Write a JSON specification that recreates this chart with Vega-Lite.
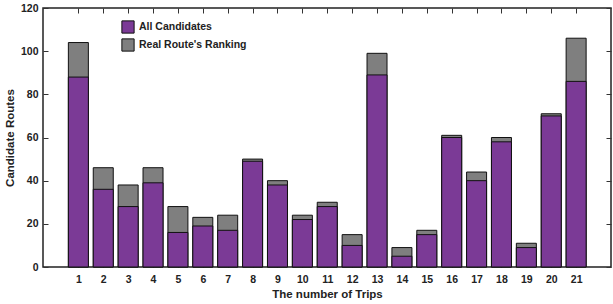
{
  "$schema": "https://vega.github.io/schema/vega-lite/v6.json",
  "width": 568,
  "height": 259,
  "autosize": {"type": "none"},
  "padding": {"left": 43, "top": 8, "right": 2, "bottom": 37},
  "config": {
    "font": "Liberation Sans",
    "view": {"stroke": "#222", "strokeWidth": 1.5},
    "axis": {"domain": false, "grid": false, "tickColor": "#333", "labelColor": "#222", "titleColor": "#222", "labelFontWeight": "bold", "titleFontWeight": "bold", "labelFontSize": 10.5, "titleFontSize": 11.5}
  },
  "data": {"values": [
    {"trip": 1, "total": 104, "real": 88},
    {"trip": 2, "total": 46, "real": 36},
    {"trip": 3, "total": 38, "real": 28},
    {"trip": 4, "total": 46, "real": 39},
    {"trip": 5, "total": 28, "real": 16},
    {"trip": 6, "total": 23, "real": 19},
    {"trip": 7, "total": 24, "real": 17},
    {"trip": 8, "total": 50, "real": 49},
    {"trip": 9, "total": 40, "real": 38},
    {"trip": 10, "total": 24, "real": 22},
    {"trip": 11, "total": 30, "real": 28},
    {"trip": 12, "total": 15, "real": 10},
    {"trip": 13, "total": 99, "real": 89},
    {"trip": 14, "total": 9, "real": 5},
    {"trip": 15, "total": 17, "real": 15},
    {"trip": 16, "total": 61, "real": 60},
    {"trip": 17, "total": 44, "real": 40},
    {"trip": 18, "total": 60, "real": 58},
    {"trip": 19, "total": 11, "real": 9},
    {"trip": 20, "total": 71, "real": 70},
    {"trip": 21, "total": 106, "real": 86}
  ]},
  "layer": [
    {
      "mark": {"type": "bar", "width": 20, "stroke": "#111", "strokeWidth": 1, "color": "#7f7f7f"},
      "encoding": {
        "x": {"field": "trip", "type": "quantitative", "scale": {"domain": [-0.22, 22.2], "nice": false, "zero": false},
          "axis": {"values": [1,2,3,4,5,6,7,8,9,10,11,12,13,14,15,16,17,18,19,20,21], "title": "The number of Trips", "tickSize": -5, "labelPadding": 12, "titlePadding": 4}},
        "y": {"field": "total", "type": "quantitative", "scale": {"domain": [0, 120], "nice": false},
          "axis": {"values": [0,20,40,60,80,100,120], "title": "Candidate Routes", "tickSize": -5, "labelPadding": 10, "titlePadding": 5}},
        "fill": {"datum": "Real Route's Ranking", "type": "nominal",
          "scale": {"domain": ["All Candidates", "Real Route's Ranking"], "range": ["#7b3a96", "#7f7f7f"]},
          "legend": {"title": null, "orient": "none", "legendX": 78, "legendY": 12, "symbolType": "square", "symbolSize": 150, "symbolStrokeColor": "#111", "symbolStrokeWidth": 1, "labelFontSize": 10.5, "labelFontWeight": "bold", "labelColor": "#222", "labelOffset": 4, "rowPadding": 0, "symbolOpacity": 1}}
      }
    },
    {
      "mark": {"type": "bar", "width": 20, "stroke": "#111", "strokeWidth": 1},
      "encoding": {
        "x": {"field": "trip", "type": "quantitative", "axis": null},
        "y": {"field": "real", "type": "quantitative", "axis": null},
        "fill": {"datum": "All Candidates", "type": "nominal"}
      }
    },
    {
      "mark": {"type": "tick", "opacity": 0},
      "encoding": {
        "x": {"field": "trip", "type": "quantitative", "axis": {"orient": "top", "values": [1,2,3,4,5,6,7,8,9,10,11,12,13,14,15,16,17,18,19,20,21], "labels": false, "title": null, "tickSize": -5}},
        "y": {"field": "real", "type": "quantitative", "axis": {"orient": "right", "values": [0,20,40,60,80,100,120], "labels": false, "title": null, "tickSize": -5}}
      }
    }
  ],
  "resolve": {"axis": {"x": "independent", "y": "independent"}}
}
